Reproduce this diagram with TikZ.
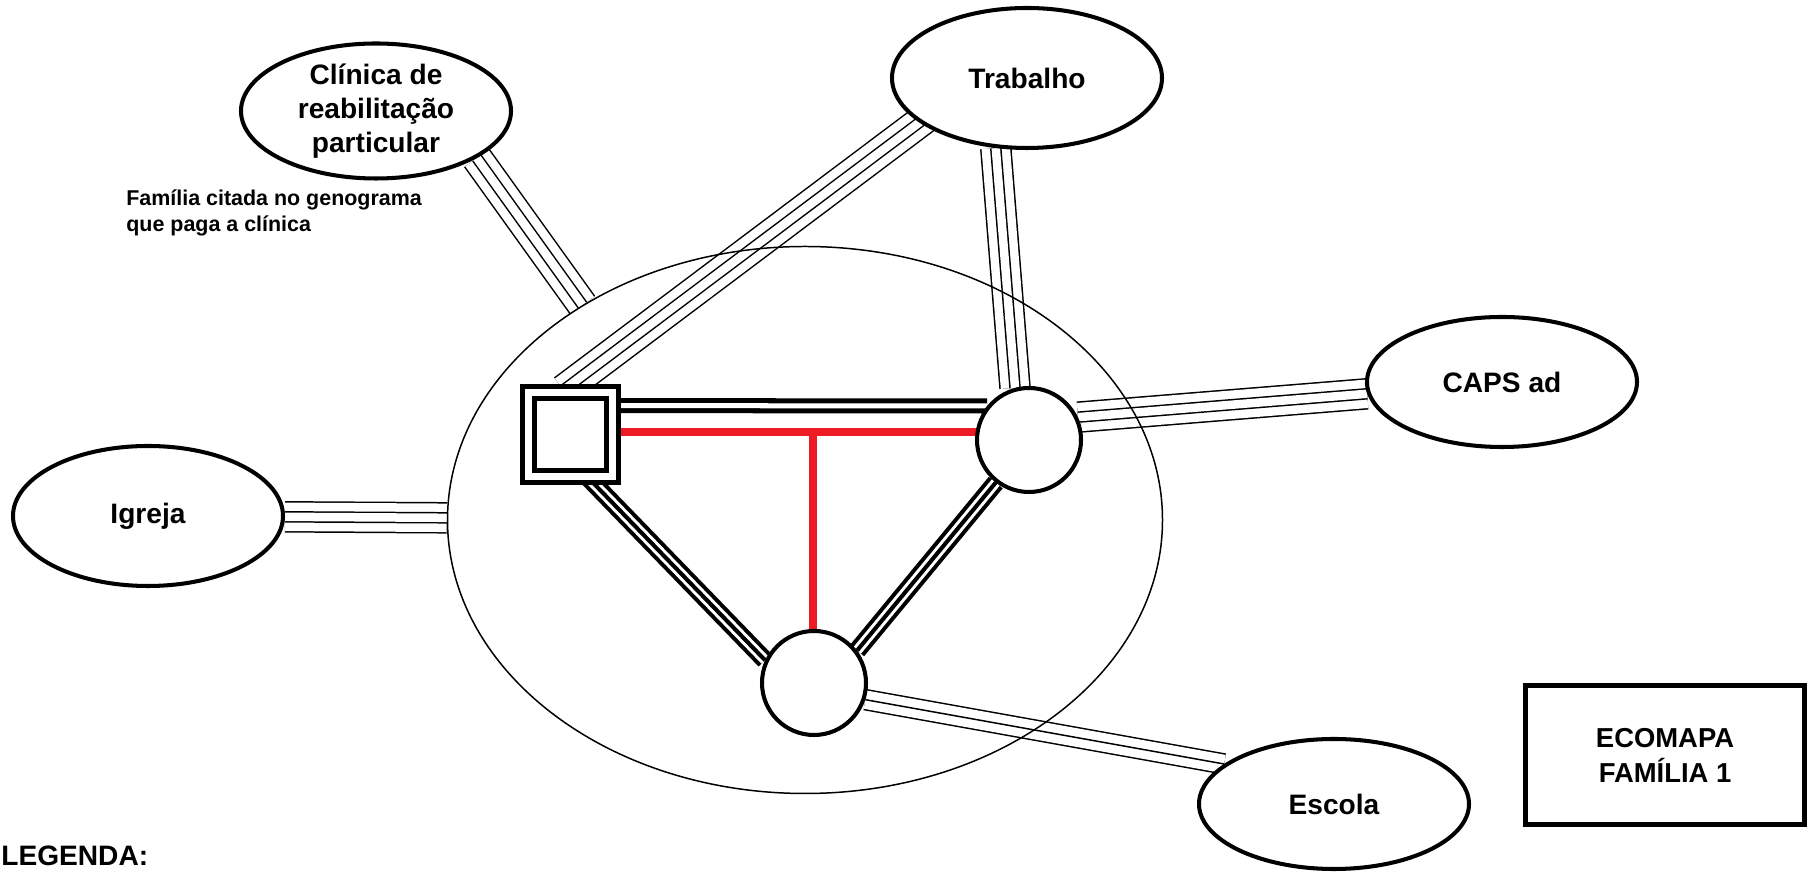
\documentclass[tikz,border=0pt]{standalone}
\usepackage{fontspec}
\setmainfont{Liberation Sans}
\usepackage{xcolor}
\usepackage{tikz}
\usetikzlibrary{shapes.geometric,backgrounds}
\definecolor{vermelho}{RGB}{237,28,36}

\begin{document}
\begin{tikzpicture}[x=2cm, y=2cm,
    font=\bfseries\fontsize{16}{19.4}\selectfont,
    recurso/.style={draw, ellipse, line width=2.3pt, fill=white, minimum width=5.4cm,
        minimum height=2.7cm, inner sep=0pt, align=center},
    quadrado/.style={draw, double, line width=2.85pt, double distance=4pt, fill=white,
        minimum size=1.68cm, inner sep=0pt},
    circulo/.style={draw, circle, line width=2.3pt, fill=white, minimum size=2.08cm, inner sep=0pt},
    quatro/.style={double, line width=0.85pt, double distance=4.84pt,
        preaction={draw, double, line width=0.85pt, double distance=16.22pt}},
    tres/.style={line width=0.85pt,
        preaction={draw, double, line width=0.85pt, double distance=10.53pt}},
    dois/.style={double, line width=2.85pt, double distance=2.85pt},
    forte/.style={line width=2.3pt,
        preaction={draw, double, line width=2.3pt, double distance=5.7pt}},
    laco/.style={vermelho, line width=4.5pt, line cap=round}]
\useasboundingbox (0,0) rectangle (18.08,8.72);

% Family
\node[draw, ellipse, line width=0.85pt, minimum width=14.3cm, minimum height=10.94cm] (familia) at (8.05,3.52) {};
\node[quadrado] (homem) at (5.705,4.375) {};
\node[circulo] (mulher) at (10.29,4.32) {};
\node[circulo] (filho) at (8.14,1.89) {};
\coordinate (uniao) at (8.13,4.40);

% Resources around the family
\node[recurso] (clinica) at (3.76,7.61) {Clínica de\\reabilitação\\particular};
\node[recurso, minimum height=2.8cm] (trabalho) at (10.27,7.94) {Trabalho};
\node[recurso, minimum height=2.6cm] (caps) at (15.02,4.90) {CAPS ad};
\node[recurso, minimum height=2.8cm] (igreja) at (1.48,3.56) {Igreja};
\node[recurso, minimum height=2.6cm] (escola) at (13.34,0.68) {Escola};

% Notes and title
\node[anchor=north west, align=left, inner sep=0pt, font=\bfseries\fontsize{12.2}{14.8}\selectfont] (nota)
    at (1.26,6.83) {Família citada no genograma\\que paga a clínica};
\node[draw, line width=2.85pt, minimum width=5.58cm, minimum height=2.78cm, align=center,
    font=\bfseries\fontsize{15.6}{19.9}\selectfont] (titulo) at (16.65,1.17) {ECOMAPA\\FAMÍLIA 1};
\node[anchor=base west, inner sep=0pt] (legenda) at (0.01,0.06) {LEGENDA:};

% Links
\begin{pgfonlayer}{background}
\draw[quatro] (igreja) -- (familia);
\draw[quatro] (clinica.-25) -- (familia.136);
\draw[quatro] (homem.99) -- ([shift={(-0.67,-0.14)}]trabalho.center);
\draw[quatro] (trabalho.-114) -- (mulher.105);
\draw[quatro] (mulher.25) -- (caps.185);
\draw[tres] (filho.-18) -- (escola.160);
\draw[dois] (homem.33) -- (mulher.141);
\draw[forte] (homem.-67) -- (filho.155);
\draw[forte] (mulher.-128) -- (filho.37);

% Marriage and child
\draw[laco] (uniao -| homem.east) -- (uniao -| mulher.west);
\draw[laco] (uniao) -- (uniao |- filho.north);
\end{pgfonlayer}
\end{tikzpicture}
\end{document}
